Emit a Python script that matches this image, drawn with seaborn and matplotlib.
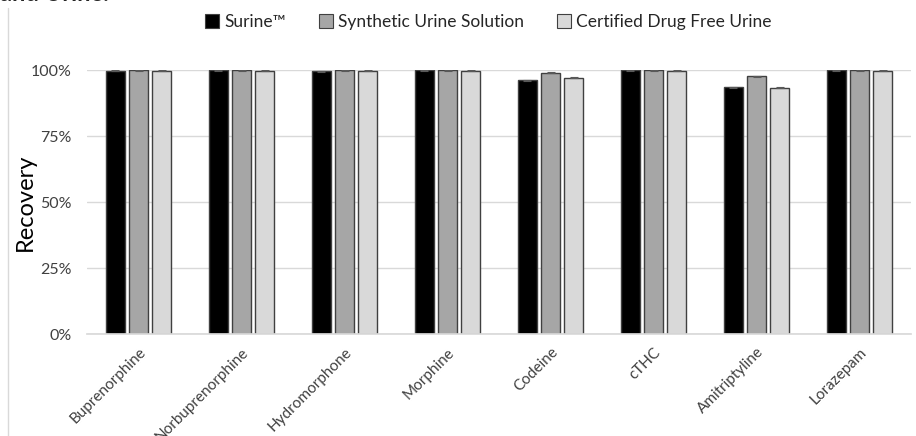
import matplotlib
matplotlib.use("Agg")
import matplotlib.pyplot as plt
import numpy as np
import pandas as pd
import seaborn as sns
from matplotlib.lines import Line2D
from matplotlib.ticker import PercentFormatter

# --- données ---
analytes = ["Buprenorphine", "Norbuprenorphine", "Hydromorphone", "Morphine",
            "Codeine", "cTHC", "Amitriptyline", "Lorazepam"]
matrices = ["Surine™", "Synthetic Urine Solution", "Certified Drug Free Urine"]
surine = [0.998, 0.999, 0.995, 0.999, 0.961, 0.999, 0.935, 0.999]
synthetic = [0.999, 0.999, 0.999, 0.999, 0.989, 0.999, 0.977, 0.999]
certified = [0.998, 0.998, 0.998, 0.998, 0.971, 0.998, 0.932, 0.998]
err = [0.002, 0.002, 0.002, 0.002, 0.002, 0.002, 0.002, 0.002]
colors = ["#000000", "#a6a6a6", "#d9d9d9"]

sns.set_theme(style="white")
plt.rcParams["font.family"] = ["Lato", "DejaVu Sans"]

df = pd.DataFrame({
    "analyte": analytes * 3,
    "matrix": np.repeat(matrices, len(analytes)),
    "recovery": surine + synthetic + certified,
})

fig = plt.figure(figsize=(9.16, 4.36), dpi=100)
ax = fig.add_axes([87 / 916, 1 - 334 / 436, (911 - 87) / 916, (334 - 70) / 436])

sns.barplot(data=df, x="analyte", y="recovery", hue="matrix", palette=colors,
            width=0.67, errorbar=None, edgecolor="#404040", linewidth=1.0,
            ax=ax, legend=False)

# barres plus étroites + petites barres d'erreur
bar_groups = list(ax.containers)
for cont in bar_groups:
    for bar, e in zip(cont, err):
        w = bar.get_width()
        cx = bar.get_x() + w / 2
        nw = w * 0.8
        bar.set_x(cx - nw / 2)
        bar.set_width(nw)
        ax.errorbar(cx, bar.get_height(), yerr=e, color="#595959",
                    capsize=3, lw=0.8, capthick=0.8, zorder=4)

ax.set_ylim(0, 1.0)
ax.set_xlim(-0.5, len(analytes) - 0.5)
ax.set_yticks([0, 0.25, 0.5, 0.75, 1.0])
ax.yaxis.set_major_formatter(PercentFormatter(1.0, decimals=0))
ax.grid(axis="y", color="#d9d9d9", lw=1)
ax.set_axisbelow(True)
for s in ["top", "right", "left"]:
    ax.spines[s].set_visible(False)
ax.spines["bottom"].set_color("#d9d9d9")
ax.tick_params(axis="y", length=0, pad=11, labelsize=11.5, labelcolor="#404040")
ax.tick_params(axis="x", length=0, pad=8, labelsize=11, labelcolor="#404040")
plt.setp(ax.get_xticklabels(), rotation=45, ha="right", rotation_mode="anchor")
ax.set_xlabel("")
ax.set_ylabel("Recovery", fontsize=17, color="#000000")
ax.yaxis.set_label_coords(-0.062, 0.5)

# légende
handles = [Line2D([], [], marker="s", ls="", markersize=10, markerfacecolor=c,
                  markeredgecolor="#404040", markeredgewidth=0.8) for c in colors]
fig.legend(handles, matrices, loc="center", bbox_to_anchor=(0.532, 1 - 22 / 436),
           ncol=3, frameon=False, fontsize=12.5, handletextpad=0.2,
           columnspacing=1.8, handlelength=1.0)

# titre coupé + bordure de la zone du graphique
fig.text(0.0, 1 - 1 / 436, "and Urine.", fontsize=17, fontweight="bold",
         va="baseline", ha="left")
fig.add_artist(Line2D([8 / 916, 8 / 916], [0, 1 - 8 / 436], color="#d9d9d9",
                      lw=1, transform=fig.transFigure))

fig.savefig("out.png", dpi=100)
